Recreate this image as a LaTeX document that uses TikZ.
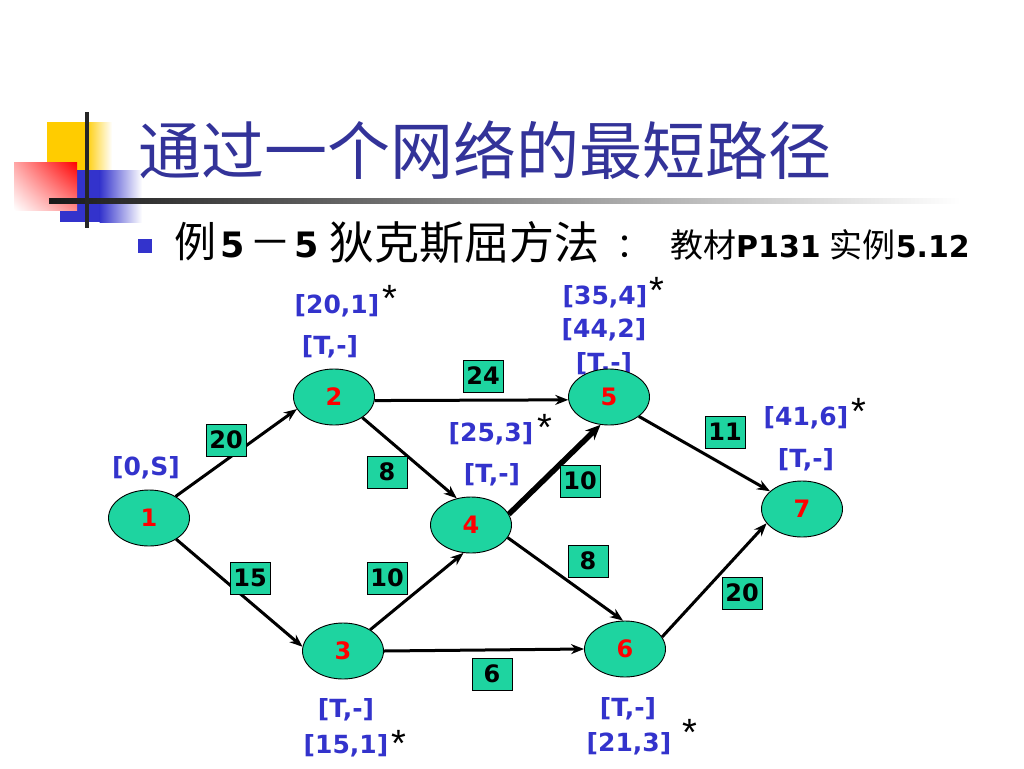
\documentclass[tikz,border=0pt]{standalone}
\usepackage{fontspec}
\setmainfont{DejaVu Sans}
\newfontfamily\cjk{Noto Sans CJK SC}
\newfontfamily\astfont{Liberation Sans}
\usetikzlibrary{shapes.geometric,arrows.meta,shadings}
\definecolor{nodegreen}{RGB}{30,212,160}
\definecolor{lblue}{RGB}{51,51,204}
\definecolor{tblue}{RGB}{51,51,153}
\definecolor{nred}{RGB}{255,0,0}
\definecolor{ylw}{RGB}{255,204,0}
\definecolor{bsq}{RGB}{51,51,204}
\begin{document}
\begin{tikzpicture}[x=1pt,y=-1pt,
  vtx/.style={ellipse,draw=black,line width=0.9pt,fill=nodegreen,minimum width=81pt,minimum height=56pt,inner sep=0pt,text=nred,font=\fontsize{24}{24}\selectfont\bfseries},
  wbox/.style={rectangle,draw=black,line width=0.9pt,fill=nodegreen,minimum width=40pt,minimum height=32pt,inner sep=0pt,font=\fontsize{24}{24}\selectfont\bfseries},
  lbl/.style={text=lblue,font=\fontsize{25}{25}\selectfont\bfseries,inner sep=0pt},
  ast/.style={font=\astfont\fontsize{38}{38}\selectfont,inner sep=0pt},
  subtxt/.style={inner sep=0pt,anchor=base},
  conn/.style={-{Stealth[length=13pt,width=10pt]},line width=3pt},
  connthick/.style={-{Stealth[length=15pt,width=13pt]},line width=5.5pt}]
\useasboundingbox (0,0) rectangle (1024,768);
\fill[white] (0,0) rectangle (1024,768);
% decoration
\fill[ylw] (47,122) rectangle (86,170);
\shade[left color=ylw,right color=white] (85.5,122) rectangle (112,170);
\fill[bsq] (60,170) rectangle (100,222);
\shade[left color=bsq,right color=white] (99.5,170) rectangle (142,222);
\shade[upper right=red,upper left={red!35},lower right={red!45},lower left=white] (14,162) rectangle (77,210);
\shade[left color=black!90,right color=white] (49,198.5) rectangle (960,203.5);
\fill[black!85] (85,112) rectangle (89,228);
% title
\node[anchor=west,text=tblue,font=\cjk\fontsize{63}{63}\selectfont,inner sep=0pt] (title) at (138,150) {通过一个网络的最短路径};
% subtitle
\node[fill=bsq,minimum width=14pt,minimum height=14pt,inner sep=0pt] (bullet) at (145,246) {};
\node[subtxt,font=\cjk\fontsize{42}{42}\selectfont] (sa) at (195,257) {例};
\node[subtxt,font=\fontsize{35}{35}\selectfont\bfseries] (sb) at (233,257) {5};
\node[subtxt,font=\cjk\fontsize{42}{42}\selectfont] (sc) at (270,257) {－};
\node[subtxt,font=\fontsize{35}{35}\selectfont\bfseries] (sd) at (307,257) {5};
\node[anchor=base west,inner sep=0pt,font=\cjk\fontsize{45}{45}\selectfont] (sub2) at (329,259) {狄克斯屈方法};
\node[anchor=base west,inner sep=0pt,font=\cjk\fontsize{34}{34}\selectfont] (sub3) at (616,257) {：};
\node[anchor=base west,inner sep=0pt] (sub4) at (670,257) {{\cjk\fontsize{33}{33}\selectfont 教材}{\bfseries\fontsize{30}{30}\selectfont P131}\hspace{9pt}{\cjk\fontsize{33}{33}\selectfont 实例}{\bfseries\fontsize{30}{30}\selectfont 5.12}};
% labels
\node[lbl] (l2a) at (337,306) {[20,1]};
\node[ast] (s2) at (390,298) {*};
\node[lbl] (l2b) at (330,347) {[T,-]};
\node[lbl] (l1) at (146,468) {[0,S]};
\node[lbl] (l4a) at (491,434) {[25,3]};
\node[ast] (s4) at (545,427) {*};
\node[lbl] (l4b) at (492,475) {[T,-]};
\node[lbl] (l5a) at (605,297) {[35,4]};
\node[ast] (s5) at (657,290) {*};
\node[lbl] (l5b) at (604,330) {[44,2]};
\node[lbl] (l5c) at (604,364) {[T,-]};
\node[lbl] (l7a) at (806,418) {[41,6]};
\node[ast] (s7) at (859,411) {*};
\node[lbl] (l7b) at (806,460) {[T,-]};
\node[lbl] (l3a) at (346,710) {[T,-]};
\node[lbl] (l3b) at (346,746) {[15,1]};
\node[ast] (s3) at (399,743) {*};
\node[lbl] (l6a) at (628,709) {[T,-]};
\node[lbl] (l6b) at (629,744) {[21,3]};
\node[ast] (s6) at (690,732) {*};
% vertices
\node[vtx] (n1) at (149,518) {1};
\node[vtx] (n2) at (334,397) {2};
\node[vtx] (n3) at (343,651) {3};
\node[vtx] (n4) at (471,525) {4};
\node[vtx] (n5) at (609,397) {5};
\node[vtx] (n6) at (625,649) {6};
\node[vtx] (n7) at (802,509) {7};
% edges
\draw[conn] (n1.39) -- (n2.198);
\draw[conn] (n1.-38) -- (n3.174);
\draw[conn] (n2.-5) -- (n5.184);
\draw[conn] (n2.-36) -- (n4.118);
\draw[conn] (n3.38) -- (n4.255);
\draw[conn] (n3.east) -- (n6.west);
\draw[connthick] (n4.16) -- (n5.253);
\draw[conn] (n4.-19) -- (n6.94);
\draw[conn] (n5.-33) -- (n7.151);
\draw[conn] (n6.18) -- (n7.202);
% weights
\node[wbox] (w12) at (226,440) {20};
\node[wbox] (w24) at (387,472) {8};
\node[wbox] (w25) at (483,376) {24};
\node[wbox] (w45) at (580,481) {10};
\node[wbox] (w57) at (725,432) {11};
\node[wbox] (w13) at (250,578) {15};
\node[wbox] (w34) at (387,578) {10};
\node[wbox] (w36) at (492,674) {6};
\node[wbox] (w46) at (588,561) {8};
\node[wbox] (w67) at (742,593) {20};
\end{tikzpicture}
\end{document}
